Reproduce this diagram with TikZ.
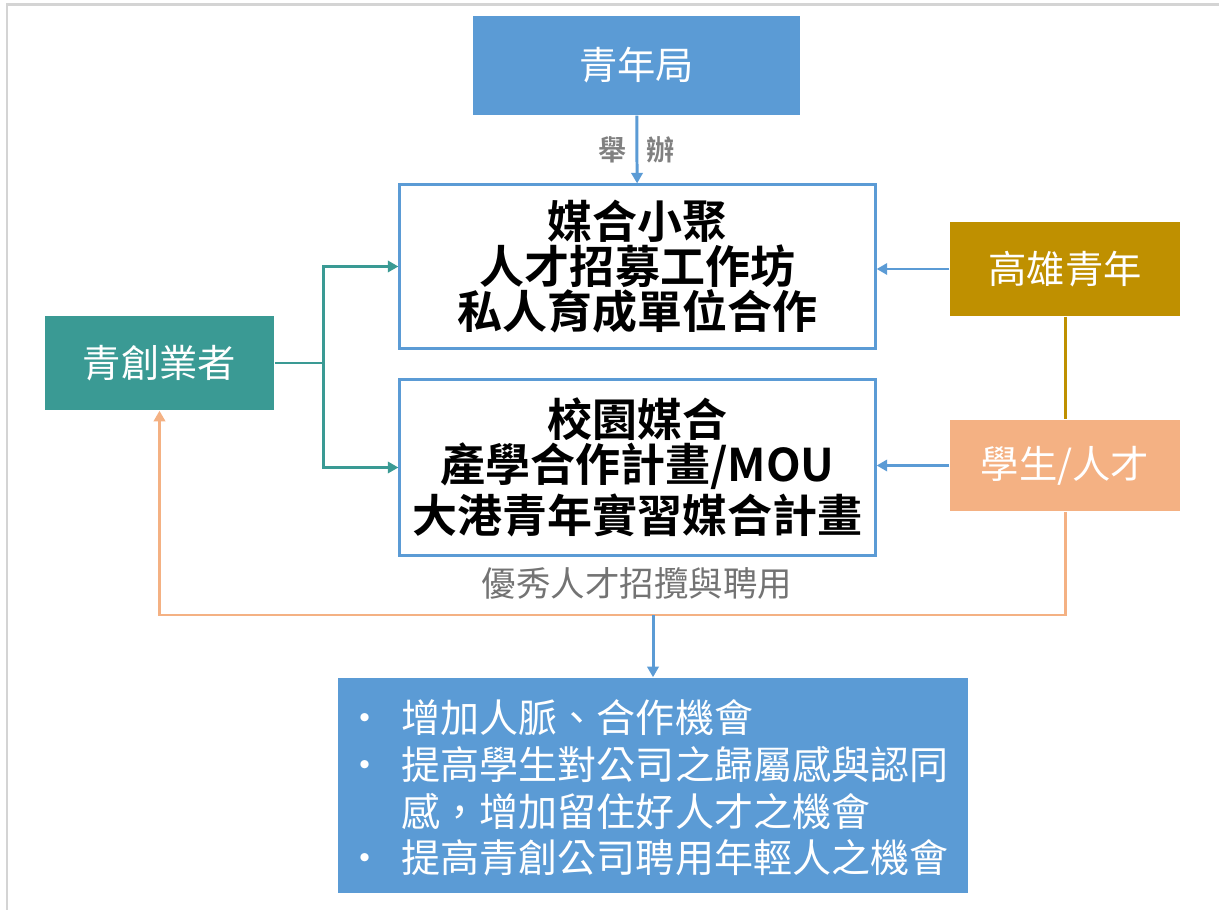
\documentclass[tikz,border=0pt]{standalone}
\usepackage{fontspec}
\setmainfont{Noto Sans CJK TC}[BoldFont={Noto Sans CJK TC Bold}]
\usetikzlibrary{arrows.meta}
\definecolor{boxblue}{RGB}{91,155,213}
\definecolor{teal}{RGB}{58,154,148}
\definecolor{gold}{RGB}{191,144,0}
\definecolor{peach}{RGB}{244,177,131}
\definecolor{grayline}{RGB}{212,212,212}
\newcommand\dotmark{\hspace*{-.12cm}•}

\begin{document}
\begin{tikzpicture}[x=.01cm,y=-.01cm,
 fillbox/.style={inner sep=0,text=white,font=\fontsize{10.9}{12}\selectfont},
 planbox/.style={draw=boxblue,line width=.85pt,fill=white,inner sep=0,minimum width=4.75cm,align=center,font=\bfseries\fontsize{12.8}{12.8}\selectfont},
 link/.style={line width=.85pt},
 tip/.style={-{Triangle[length=3pt,width=3.2pt]}}]
 \useasboundingbox (0,0) rectangle (1219,910);
 \draw[grayline,line width=.6pt] (1219,4.5)--(7,4.5)--(7,910);
 \node[fillbox,fill=boxblue,minimum width=3.27cm,minimum height=.99cm] (bureau) at (636.5,65.5) {青年局};
 \node[planbox,minimum height=1.63cm] (match) at (637.5,266.5) {媒合小聚\\人才招募工作坊\\私人育成單位合作};
 \node[planbox,minimum height=1.75cm] (campus) at (637.5,467.5) {校園媒合\\產學合作計畫/MOU\\大港青年實習媒合計畫};
 \node[fillbox,fill=gold,minimum width=2.3cm,minimum height=.94cm] (youth) at (1065,269) {高雄青年};
 \node[fillbox,fill=peach,minimum width=2.3cm,minimum height=.91cm] (student) at (1065,465.5) {學生/人才};
 \node[fillbox,fill=teal,minimum width=2.29cm,minimum height=.94cm] (firm) at (159.5,363) {青創業者};
 \node[fillbox,fill=boxblue,minimum width=6.3cm,minimum height=2.15cm,font=\fontsize{11.1}{12.8}\selectfont] (gain) at (653,785.5)
  {\begin{tabular}{@{}p{.44cm}@{}l@{}}
  \dotmark & \rule{0pt}{13.6pt}增加人脈、合作機會\\
  \dotmark & 提高學生對公司之歸屬感與認同\\
    & 感，增加留住好人才之機會\\
  \dotmark & 提高青創公司聘用年輕人之機會
  \end{tabular}};
 \coordinate (split) at (323,363);
 \coordinate (hire) at (653,615);
 \draw[link,boxblue,tip] (bureau) -- (match) node[midway,text=gray,font=\bfseries\fontsize{8}{8}\selectfont] {舉\hspace{.2cm}辦};
 \draw[link,teal] (firm.east) -- (split);
 \draw[link,teal,tip] (split) |- (match.west);
 \draw[link,teal,tip] (split) |- (campus.west);
 \draw[link,boxblue,tip] (youth.west) -- (youth.west -| match.east);
 \draw[link,boxblue,tip] (student.west) -- (student.west -| campus.east);
 \draw[link,gold] (youth.south) -- (student.north);
 \draw[link,peach,tip] (student.south) |- (hire) -| (firm.south);
 \draw[link,boxblue,tip] (hire) -- (gain.north);
 \node[text=gray!90!black,font=\fontsize{9.8}{11}\selectfont] (recruit) at (637,583) {優秀人才招攬與聘用};
\end{tikzpicture}
\end{document}
